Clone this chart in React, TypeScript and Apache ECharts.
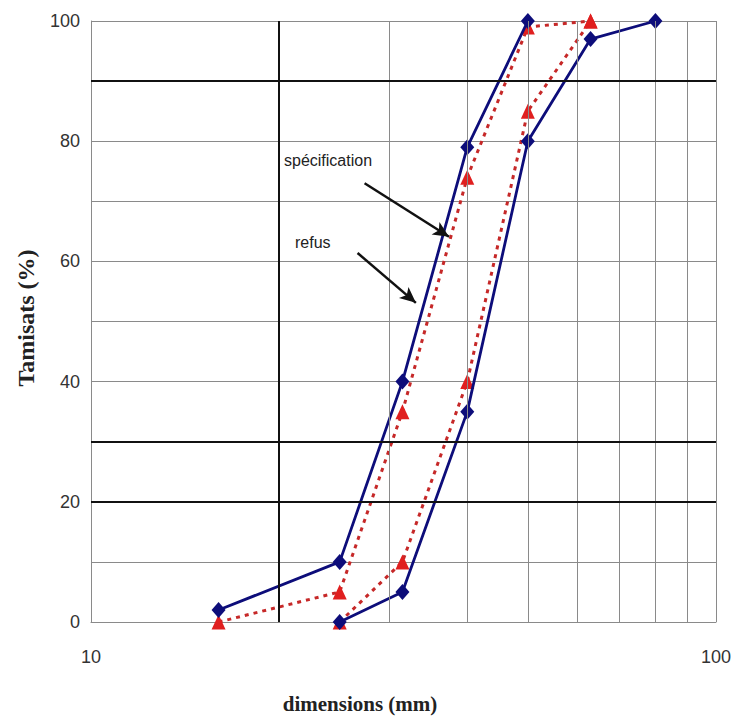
import { useEffect, useRef } from "react";
import * as echarts from "echarts";

// Tick labels
const xTickLabels = [10, 100];
const yTickLabels = [0, 20, 40, 60, 80, 100];
// Grid lines (log x minor lines, darker lines as in the reference)
const xMinorGrid = [20, 30, 40, 50, 60, 70, 80, 90];
const xDarkGrid = [20];
const yDarkGrid = [20, 30, 90];

// Curves (sieve size mm, passing %)
const specUpperX = [16, 25, 31.5, 40, 50];
const specUpperY = [2, 10, 40, 79, 100];
const specLowerX = [25, 31.5, 40, 50, 63, 80];
const specLowerY = [0, 5, 35, 80, 97, 100];
const refusUpperX = [16, 25, 31.5, 40, 50, 63];
const refusUpperY = [0, 5, 35, 74, 99, 100];
const refusLowerX = [25, 31.5, 40, 50, 63];
const refusLowerY = [0, 10, 40, 85, 100];

// Annotation arrows (data coordinates)
const arrowLabels = ["spécification", "refus"];
const arrowFrom = [[27.4, 73], [26.7, 61.4]];
const arrowTo = [[37.4, 64.1], [33.1, 53.1]];

const zip = (xs: number[], ys: number[]) => xs.map((x, i) => [x, ys[i]]);

const BLUE = "#0d0d7a";
const RED = "#e01f1f";
const GRID = "#8a8a8a";
const DARK = "#111111";

export default function App() {
  const ref = useRef<HTMLDivElement>(null);
  useEffect(() => {
    if (!ref.current) return;
    const chart = echarts.init(ref.current, null, { renderer: "svg" });
    const gridMarks: any[] = [
      ...xMinorGrid.map((v) => ({
        xAxis: v,
        lineStyle: xDarkGrid.includes(v)
          ? { color: DARK, width: 2, type: "solid" }
          : { color: GRID, width: 1, type: "solid" },
      })),
      ...yDarkGrid.map((v) => ({
        yAxis: v,
        lineStyle: { color: DARK, width: 2, type: "solid" },
      })),
    ];
    const lineBlue = (name: string, data: number[][]) => ({
      name,
      type: "line",
      data,
      z: 4,
      symbol: "diamond",
      symbolSize: [14, 16],
      itemStyle: { color: BLUE },
      lineStyle: { color: BLUE, width: 2.8 },
    });
    const lineRed = (name: string, data: number[][]) => ({
      name,
      type: "line",
      data,
      z: 3,
      symbol: "triangle",
      symbolSize: [14, 15],
      itemStyle: { color: RED },
      lineStyle: { color: "#c62828", width: 3, type: [4, 5] },
    });
    chart.setOption({
      animation: false,
      backgroundColor: "#ffffff",
      grid: { left: 91, right: 16, top: 21, bottom: 95, containLabel: false },
      xAxis: {
        type: "log",
        logBase: 10,
        min: 10,
        max: 100,
        axisLine: { show: true, lineStyle: { color: GRID, width: 1 } },
        axisTick: { show: false },
        axisLabel: {
          margin: 26,
          fontSize: 18,
          color: "#333",
          fontFamily: "Liberation Sans",
          formatter: (v: number) => (xTickLabels.includes(Math.round(v)) ? String(Math.round(v)) : ""),
        },
        splitLine: { show: true, lineStyle: { color: GRID, width: 1 } },
      },
      yAxis: {
        type: "value",
        min: 0,
        max: 100,
        interval: 10,
        axisLine: { show: true, lineStyle: { color: GRID, width: 1 } },
        axisTick: { show: false },
        axisLabel: {
          margin: 11,
          fontSize: 18,
          color: "#333",
          fontFamily: "Liberation Sans",
          formatter: (v: number) => (yTickLabels.includes(v) ? String(v) : ""),
        },
        splitLine: { show: true, lineStyle: { color: GRID, width: 1 } },
      },
      graphic: [
        {
          type: "text",
          x: 26,
          y: 318,
          rotation: Math.PI / 2,
          style: {
            text: "Tamisats (%)",
            font: "bold 24px 'Liberation Serif'",
            fill: "#222",
            align: "center",
            verticalAlign: "middle",
          },
        },
        {
          type: "text",
          x: 360,
          y: 704,
          style: {
            text: "dimensions (mm)",
            font: "bold 21px 'Liberation Serif'",
            fill: "#222",
            align: "center",
            verticalAlign: "middle",
          },
        },
        {
          type: "text",
          x: 284,
          y: 160,
          style: {
            text: arrowLabels[0],
            font: "16px 'Liberation Sans'",
            fill: "#222",
            align: "left",
            verticalAlign: "middle",
          },
        },
        {
          type: "text",
          x: 295,
          y: 242,
          style: {
            text: arrowLabels[1],
            font: "16px 'Liberation Sans'",
            fill: "#222",
            align: "left",
            verticalAlign: "middle",
          },
        },
      ],
      series: [
        {
          name: "grid",
          type: "line",
          data: [],
          z: 1,
          silent: true,
          markLine: {
            silent: true,
            symbol: ["none", "none"],
            label: { show: false },
            data: gridMarks,
          },
        },
        lineRed("refus haut", zip(refusUpperX, refusUpperY)),
        lineRed("refus bas", zip(refusLowerX, refusLowerY)),
        lineBlue("spécification haut", zip(specUpperX, specUpperY)),
        lineBlue("spécification bas", zip(specLowerX, specLowerY)),
        {
          name: "arrows",
          type: "line",
          data: [],
          z: 6,
          silent: true,
          markLine: {
            silent: true,
            symbol: ["none", "arrow"],
            symbolSize: [11, 16],
            label: { show: false },
            lineStyle: { color: "#111", width: 2.5, type: "solid" },
            data: arrowFrom.map((f, i) => [{ coord: f }, { coord: arrowTo[i] }]),
          },
        },
      ],
    });
    return () => chart.dispose();
  }, []);
  return (
    <div
      ref={ref}
      style={{ position: "fixed", left: 0, top: 0, width: 734, height: 717, background: "#fff" }}
    />
  );
}
